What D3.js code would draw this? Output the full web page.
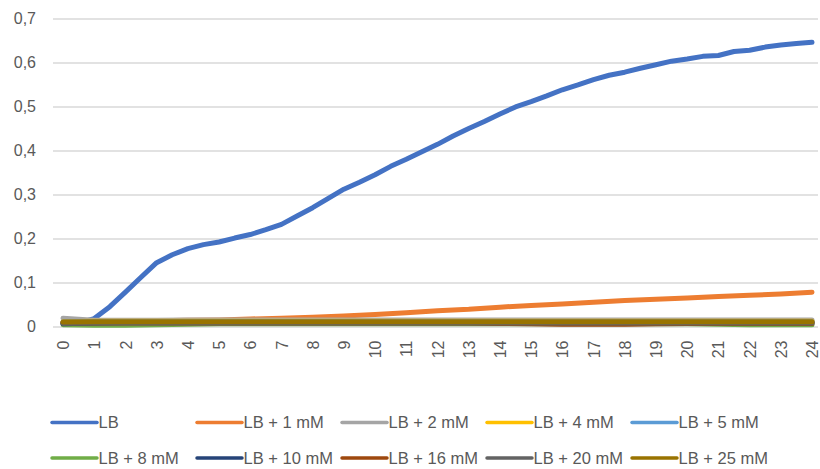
<!DOCTYPE html>
<html>
<head>
    <script src="https://d3js.org/d3.v7.min.js"></script>
    <style>
        body { margin: 0; background: #fff; }
        text { font-family: "Liberation Sans", Arial, sans-serif; fill: #595959; }
    </style>
</head>
<body>
    <div id="chart"></div>

    <script>
        // Hour ticks / category labels
        var hours = [0, 1, 2, 3, 4, 5, 6, 7, 8, 9, 10, 11, 12, 13, 14, 15, 16, 17, 18, 19, 20, 21, 22, 23, 24];

        // LB was read every half hour
        var halfHours = [0, 0.5, 1, 1.5, 2, 2.5, 3, 3.5, 4, 4.5, 5, 5.5, 6, 6.5, 7, 7.5, 8, 8.5, 9, 9.5,
            10, 10.5, 11, 11.5, 12, 12.5, 13, 13.5, 14, 14.5, 15, 15.5, 16, 16.5, 17, 17.5, 18, 18.5, 19, 19.5,
            20, 20.5, 21, 21.5, 22, 22.5, 23, 23.5, 24];

        var lb = [0.008, 0.008, 0.018, 0.045, 0.078, 0.112, 0.145, 0.163, 0.177, 0.186, 0.192, 0.201, 0.209, 0.220,
            0.232, 0.251, 0.270, 0.291, 0.312, 0.328, 0.345, 0.364, 0.380, 0.397, 0.414, 0.433, 0.450, 0.466, 0.483,
            0.499, 0.511, 0.524, 0.538, 0.549, 0.561, 0.571, 0.578, 0.587, 0.595, 0.603, 0.608, 0.614, 0.616, 0.625,
            0.628, 0.635, 0.640, 0.643, 0.646];

        // the other series, one value per hour
        var lb1 = [0.010, 0.011, 0.012, 0.013, 0.014, 0.015, 0.017, 0.019, 0.021, 0.024, 0.027, 0.031, 0.036,
            0.039, 0.044, 0.048, 0.051, 0.055, 0.059, 0.062, 0.065, 0.068, 0.071, 0.074, 0.078];
        var lb2 = [0.019, 0.014, 0.014, 0.014, 0.015, 0.015, 0.015, 0.015, 0.015, 0.015, 0.015, 0.015, 0.015,
            0.015, 0.015, 0.015, 0.015, 0.015, 0.015, 0.015, 0.015, 0.015, 0.015, 0.015, 0.015];
        var lb4 = [0.011, 0.012, 0.012, 0.012, 0.012, 0.012, 0.012, 0.012, 0.012, 0.012, 0.012, 0.012, 0.012,
            0.012, 0.012, 0.012, 0.012, 0.012, 0.012, 0.012, 0.012, 0.012, 0.012, 0.012, 0.012];
        var lb5 = [0.010, 0.011, 0.011, 0.011, 0.011, 0.011, 0.011, 0.011, 0.011, 0.011, 0.011, 0.011, 0.011,
            0.011, 0.011, 0.011, 0.011, 0.011, 0.011, 0.011, 0.011, 0.011, 0.011, 0.011, 0.011];
        var lb8 = [0.004, 0.003, 0.003, 0.004, 0.005, 0.006, 0.006, 0.006, 0.006, 0.006, 0.006, 0.006, 0.006,
            0.006, 0.006, 0.006, 0.006, 0.006, 0.006, 0.006, 0.006, 0.005, 0.004, 0.004, 0.004];
        var lb10 = [0.006, 0.008, 0.009, 0.009, 0.009, 0.009, 0.009, 0.009, 0.009, 0.009, 0.009, 0.009, 0.009,
            0.009, 0.009, 0.009, 0.009, 0.009, 0.009, 0.009, 0.009, 0.009, 0.009, 0.009, 0.009];
        var lb16 = [0.008, 0.008, 0.008, 0.008, 0.008, 0.008, 0.008, 0.008, 0.008, 0.008, 0.008, 0.008, 0.008,
            0.008, 0.007, 0.006, 0.005, 0.005, 0.005, 0.006, 0.007, 0.007, 0.007, 0.007, 0.007];
        var lb20 = [0.007, 0.008, 0.008, 0.008, 0.008, 0.008, 0.008, 0.008, 0.008, 0.008, 0.008, 0.008, 0.008,
            0.008, 0.008, 0.008, 0.008, 0.008, 0.008, 0.008, 0.008, 0.008, 0.008, 0.008, 0.008];
        var lb25 = [0.010, 0.011, 0.011, 0.011, 0.011, 0.011, 0.011, 0.011, 0.011, 0.011, 0.011, 0.011, 0.011,
            0.011, 0.011, 0.011, 0.011, 0.011, 0.011, 0.011, 0.011, 0.011, 0.011, 0.011, 0.011];

        var seriesNames = ["LB", "LB + 1 mM", "LB + 2 mM", "LB + 4 mM", "LB + 5 mM",
            "LB + 8 mM", "LB + 10 mM", "LB + 16 mM", "LB + 20 mM", "LB + 25 mM"];
        var seriesColors = ["#4472C4", "#ED7D31", "#A5A5A5", "#FFC000", "#5B9BD5",
            "#70AD47", "#264478", "#9E480E", "#636363", "#997300"];
        var yTicks = [0, 0.1, 0.2, 0.3, 0.4, 0.5, 0.6, 0.7];

        var series = [
            { times: halfHours, values: lb },
            { times: hours, values: lb1 },
            { times: hours, values: lb2 },
            { times: hours, values: lb4 },
            { times: hours, values: lb5 },
            { times: hours, values: lb8 },
            { times: hours, values: lb10 },
            { times: hours, values: lb16 },
            { times: hours, values: lb20 },
            { times: hours, values: lb25 }
        ].map(function(s, i) {
            return {
                name: seriesNames[i],
                color: seriesColors[i],
                points: s.times.map(function(t, j) { return [t, s.values[j]]; })
            };
        });

        var width = 820, height = 469;
        var plotLeft = 53, plotRight = 818, plotTop = 18.5, plotBottom = 326.5;

        var svg = d3.select("#chart")
            .append("svg")
            .attr("width", width)
            .attr("height", height);

        var x = d3.scaleLinear()
            .domain([0, 24])
            .range([63, 812]);

        var y = d3.scaleLinear()
            .domain([0, 0.7])
            .range([plotBottom, plotTop]);

        var comma = d3.formatLocale({ decimal: ",", thousands: ".", grouping: [3], currency: ["", "€"] });
        var fmt = function(d) { return d === 0 ? "0" : comma.format(".1f")(d); };

        // y axis with gridlines
        var yAxis = svg.append("g")
            .attr("transform", "translate(" + plotLeft + ",0)")
            .call(d3.axisLeft(y).tickValues(yTicks).tickFormat(fmt)
                .tickSize(-(plotRight - plotLeft)).tickPadding(17));
        yAxis.select(".domain").remove();
        yAxis.selectAll("line").attr("stroke", "#D9D9D9").attr("stroke-width", 1.3);
        yAxis.selectAll("text").style("font-size", "16px").attr("fill", "#595959");

        // x axis labels, rotated
        var xAxis = svg.append("g")
            .attr("transform", "translate(0," + plotBottom + ")")
            .call(d3.axisBottom(x).tickValues(hours).tickSize(0));
        xAxis.select(".domain").remove();
        xAxis.selectAll("text")
            .style("font-size", "16px")
            .attr("fill", "#595959")
            .attr("text-anchor", "end")
            .attr("y", 0)
            .attr("dy", "0.35em")
            .attr("transform", "translate(0,14) rotate(-90)");

        var line = d3.line()
            .x(function(d) { return x(d[0]); })
            .y(function(d) { return y(d[1]); });

        svg.selectAll(".series")
            .data(series)
            .enter().append("path")
            .attr("class", "series")
            .attr("d", function(d) { return line(d.points); })
            .attr("fill", "none")
            .attr("stroke", function(d) { return d.color; })
            .attr("stroke-width", 5)
            .attr("stroke-linejoin", "round")
            .attr("stroke-linecap", "round");

        // legend, 5 per row
        var legend = svg.selectAll(".legend")
            .data(series)
            .enter().append("g")
            .attr("class", "legend")
            .attr("transform", function(d, i) {
                return "translate(" + (52 + (i % 5) * 145) + "," + (422.5 + Math.floor(i / 5) * 35.5) + ")";
            });

        legend.append("line")
            .attr("x1", 0).attr("x2", 45)
            .attr("stroke", function(d) { return d.color; })
            .attr("stroke-width", 3.5)
            .attr("stroke-linecap", "round");

        legend.append("text")
            .attr("x", 46.5)
            .attr("dy", "0.35em")
            .style("font-size", "16.5px")
            .text(function(d) { return d.name; });
    </script>
</body>
</html>
